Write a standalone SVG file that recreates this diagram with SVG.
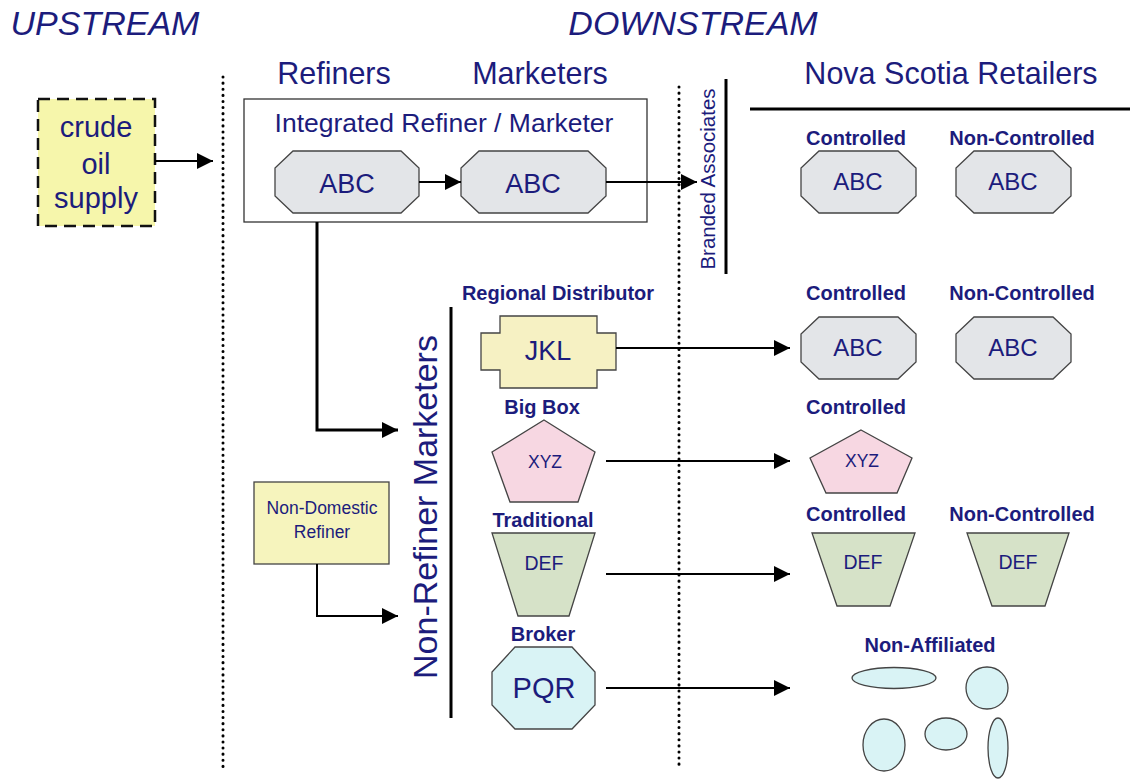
<svg xmlns="http://www.w3.org/2000/svg" width="1130" height="781" viewBox="0 0 1130 781">
<style>
text{font-family:"Liberation Sans",Arial,sans-serif;fill:#1c1c7c;text-anchor:middle}
.hdr{font-size:34px;font-style:italic}
.col{font-size:30.5px}
.lab{font-size:20px;font-weight:bold}
.big{font-size:27px}
.abct{font-size:24px}
.mid{font-size:19.5px}
.sm{font-size:17.5px}
.sh{stroke:#444;stroke-width:1.3}
.abc{fill:#e3e5e8}
.jkl{fill:#f6f1c3}
.xyz{fill:#f7d7e2}
.def{fill:#d6e2c8}
.pqr{fill:#d9f3f5}
.dot{stroke:#000;stroke-width:3;stroke-dasharray:0.1 6;stroke-linecap:round;fill:none}
.conn{stroke:#000;stroke-width:2;fill:none;marker-end:url(#ah)}
.conn3{stroke:#000;stroke-width:3;fill:none;marker-end:url(#ah)}
.bar{stroke:#000;stroke-width:3}
</style>
<defs>
<marker id="ah" markerUnits="userSpaceOnUse" markerWidth="18" markerHeight="16" refX="16" refY="8" orient="auto">
<path d="M0,0 L16,8 L0,16 Z" fill="#000"/>
</marker>
</defs>
<rect width="1130" height="781" fill="#fff"/>

<g id="headers">
<text class="hdr" x="105" y="35">UPSTREAM</text>
<text class="hdr" x="693" y="35">DOWNSTREAM</text>
<text class="col" x="334" y="84">Refiners</text>
<text class="col" x="540" y="84">Marketers</text>
<text class="col" x="951" y="84">Nova Scotia Retailers</text>
<line class="dot" x1="223" y1="77" x2="223" y2="770"/>
<line class="dot" x1="679" y1="87" x2="679" y2="770"/>
<line class="bar" x1="726" y1="79" x2="726" y2="274"/>
<line class="bar" x1="750" y1="109" x2="1130" y2="109"/>
<line class="bar" x1="451" y1="307" x2="451" y2="718"/>
<text font-size="20.5" transform="translate(715,179) rotate(-90)">Branded Associates</text>
<text font-size="34" transform="translate(437,507) rotate(-90)">Non-Refiner Marketers</text>
</g>

<g id="crude">
<rect x="38" y="99" width="117" height="127" fill="#f6f6ab" stroke="#111" stroke-width="2.5" stroke-dasharray="12 7"/>
<text font-size="29" x="96" y="137">crude</text>
<text font-size="29" x="96" y="174">oil</text>
<text font-size="29" x="96" y="208">supply</text>
</g>

<g id="integrated">
<rect x="244" y="99" width="403" height="123" fill="#fff" stroke="#333" stroke-width="1.3"/>
<text font-size="26.5" x="444" y="132">Integrated Refiner / Marketer</text>
</g>
<g id="refinerABC">
<polygon class="abc sh" points="293,151 401,151 419,168 419,196 401,213 293,213 275,196 275,168"/>
<text class="big" x="347" y="193">ABC</text>
</g>
<g id="marketerABC">
<polygon class="abc sh" points="479,151 588,151 606,168 606,196 588,213 479,213 461,196 461,168"/>
<text class="big" x="533" y="193">ABC</text>
</g>

<g id="bac-ctrl">
<text class="lab" x="856" y="145">Controlled</text>
<polygon class="abc sh" points="819,151 898,151 916,168 916,196 898,213 819,213 801,196 801,168"/>
<text class="abct" x="858" y="190">ABC</text>
</g>
<g id="bac-nonctrl">
<text class="lab" x="1022" y="145">Non-Controlled</text>
<polygon class="abc sh" points="974,151 1053,151 1071,168 1071,196 1053,213 974,213 956,196 956,168"/>
<text class="abct" x="1013" y="190">ABC</text>
</g>

<g id="jkl">
<text class="lab" x="558" y="300">Regional Distributor</text>
<polygon class="jkl sh" points="500,316 597,316 597,333 616,333 616,370 597,370 597,388 500,388 500,370 481,370 481,333 500,333"/>
<text class="big" x="548" y="360">JKL</text>
</g>
<g id="rd-ctrl">
<text class="lab" x="856" y="300">Controlled</text>
<polygon class="abc sh" points="819,317 898,317 916,334 916,362 898,379 819,379 801,362 801,334"/>
<text class="abct" x="858" y="356">ABC</text>
</g>
<g id="rd-nonctrl">
<text class="lab" x="1022" y="300">Non-Controlled</text>
<polygon class="abc sh" points="974,317 1053,317 1071,334 1071,362 1053,379 974,379 956,362 956,334"/>
<text class="abct" x="1013" y="356">ABC</text>
</g>

<g id="xyz">
<text class="lab" x="542" y="414">Big Box</text>
<polygon class="xyz sh" points="544,420 595,452 578,502 510,502 492,452"/>
<text class="sm" x="545" y="468">XYZ</text>
</g>
<g id="bb-ctrl">
<text class="lab" x="856" y="414">Controlled</text>
<polygon class="xyz sh" points="861,430 912,458 897,493 826,493 810,458"/>
<text class="sm" x="862" y="467">XYZ</text>
</g>

<g id="def">
<text class="lab" x="543" y="527">Traditional</text>
<polygon class="def sh" points="492,533 595,533 569,616 518,616"/>
<text class="mid" x="544" y="570">DEF</text>
</g>
<g id="tr-ctrl">
<text class="lab" x="856" y="521">Controlled</text>
<polygon class="def sh" points="812,533 915,533 890,606 837,606"/>
<text class="mid" x="863" y="569">DEF</text>
</g>
<g id="tr-nonctrl">
<text class="lab" x="1022" y="521">Non-Controlled</text>
<polygon class="def sh" points="967,533 1069,533 1045,606 992,606"/>
<text class="mid" x="1018" y="569">DEF</text>
</g>

<g id="pqr">
<text class="lab" x="543" y="641">Broker</text>
<polygon class="pqr sh" points="515,647 572,647 595,672 595,705 572,729 515,729 492,705 492,672"/>
<text font-size="29" x="544" y="698">PQR</text>
</g>
<g id="nonaffiliated">
<text class="lab" x="930" y="652">Non-Affiliated</text>
<ellipse class="pqr sh" cx="894" cy="678" rx="42" ry="10.5"/>
<ellipse class="pqr sh" cx="987" cy="688" rx="21" ry="21"/>
<ellipse class="pqr sh" cx="884" cy="745" rx="21" ry="26"/>
<ellipse class="pqr sh" cx="946" cy="734" rx="21" ry="16"/>
<ellipse class="pqr sh" cx="998" cy="748" rx="10" ry="30"/>
</g>

<g id="nondomestic">
<rect x="254" y="482" width="135" height="82" fill="#f6f4bd" stroke="#444" stroke-width="1.3"/>
<text font-size="17.5" x="322" y="514" fill="#2a2a86">Non-Domestic</text>
<text font-size="17.5" x="322" y="538" fill="#2a2a86">Refiner</text>
</g>

<g id="connectors">
<line class="conn" x1="155" y1="161" x2="213" y2="161"/>
<line class="conn" x1="419" y1="182" x2="461" y2="182"/>
<line class="conn" x1="606" y1="182" x2="697" y2="182"/>
<polyline class="conn3" points="317,222 317,430 398,430"/>
<polyline class="conn" points="317,564 317,616 398,616"/>
<line class="conn" x1="616" y1="348" x2="790" y2="348"/>
<line class="conn" x1="606" y1="461" x2="790" y2="461"/>
<line class="conn" x1="606" y1="574" x2="790" y2="574"/>
<line class="conn" x1="606" y1="688" x2="790" y2="688"/>
</g>
</svg>
